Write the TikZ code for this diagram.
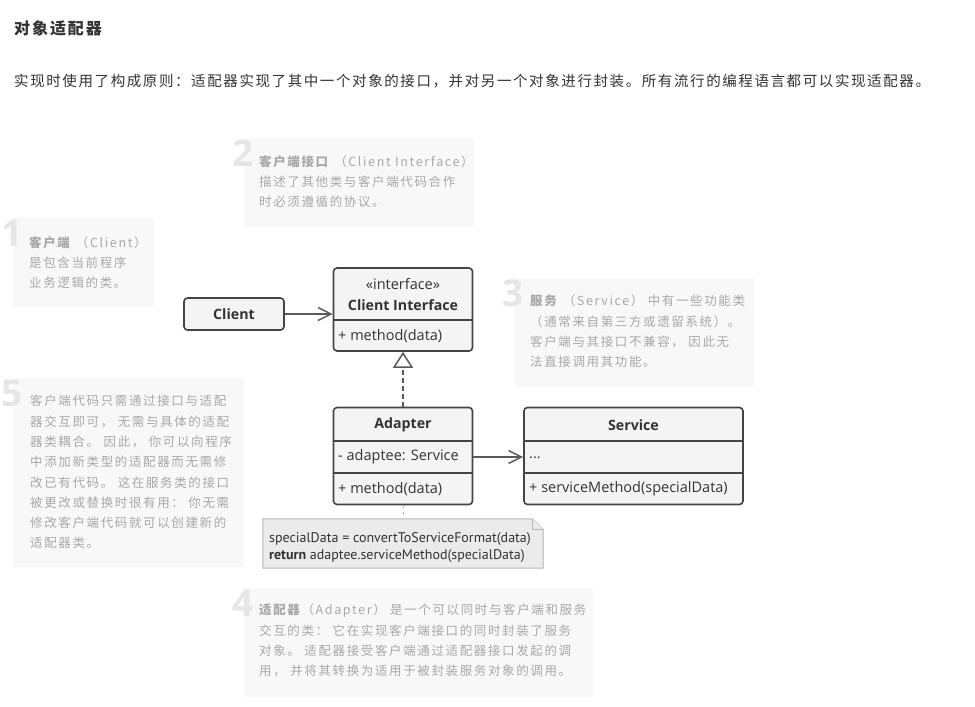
\documentclass[tikz,border=0pt]{standalone}
\usepackage{fontspec}
\setmainfont{Noto Sans CJK SC}
\newfontfamily\umlfont{Open Sans}
\newfontfamily\codefont{PT Sans}
\newfontfamily\digitfont{Open Sans}
\usetikzlibrary{arrows.meta}

\definecolor{inkdark}{HTML}{333333}
\definecolor{umlline}{HTML}{444444}
\definecolor{umlfill}{HTML}{F4F4F4}
\definecolor{arrowgray}{HTML}{5A5A5A}
\definecolor{notefill}{HTML}{F8F8F8}
\definecolor{notegray}{HTML}{A8A8A8}
\definecolor{digitgray}{HTML}{E6E6E6}
\definecolor{codefill}{HTML}{EBEBEB}
\definecolor{codeline}{HTML}{B5B5B5}

\tikzset{
  umlbox/.style={draw=umlline, line width=1.6pt, fill=umlfill, rounded corners=3.5pt, inner sep=0pt},
  umltext/.style={inner sep=0pt, text=inkdark, font=\umlfont\fontsize{14.5}{16}\selectfont},
  umlname/.style={inner sep=0pt, text=inkdark, font=\umlfont\bfseries\fontsize{14.2}{16}\selectfont},
  divider/.style={draw=umlline, line width=1.6pt},
  assoc/.style={draw=arrowgray, line width=1.5pt, -{Straight Barb[length=13pt,width=13pt,line width=1.5pt]}},
  realize/.style={draw=arrowgray, line width=1.5pt, dash pattern=on 5pt off 3pt, -{Triangle[open,length=16pt,width=20pt,line width=1.5pt]}},
  notelink/.style={draw=codeline, line width=1pt, dash pattern=on 3pt off 4pt},
  notebox/.style={fill=notefill, inner sep=0pt, anchor=north west},
  notetext/.style={inner sep=0pt, anchor=north west, align=left, text=notegray,
    font=\fontsize{12.5}{20.3}\selectfont\addfontfeatures{LetterSpace=13}},
  numtag/.style={inner sep=0pt, anchor=base east, text=digitgray, font=\digitfont\bfseries\fontsize{37}{37}\selectfont},
  codebox/.style={draw=codeline, line width=1pt, fill=codefill},
  codetext/.style={inner sep=0pt, anchor=north west, align=left, text=inkdark, font=\codefont\fontsize{14}{17}\selectfont},
}

\begin{document}
\begin{tikzpicture}[x=1pt,y=-1pt]
  \useasboundingbox[fill=white] (0,0) rectangle (975,707);

  % heading
  \node[inner sep=0pt, anchor=west, text=inkdark, font=\bfseries\fontsize{16}{18}\selectfont\addfontfeatures{LetterSpace=12}] (title) at (14,28) {对象适配器};
  \node[inner sep=0pt, anchor=west, text=inkdark, font=\fontsize{14.5}{17}\selectfont\addfontfeatures{LetterSpace=11}] (intro) at (14,81)
    {实现时使用了构成原则：适配器实现了其中一个对象的接口，并对另一个对象进行封装。所有流行的编程语言都可以实现适配器。};

  % notes
  \node[notebox, minimum width=141, minimum height=89] (note1) at (13,218) {};
  \node[notebox, minimum width=230, minimum height=89] (note2) at (244,138) {};
  \node[notebox, minimum width=240, minimum height=109] (note3) at (514,278) {};
  \node[notebox, minimum width=231, minimum height=189] (note5) at (13,378) {};
  \node[notebox, minimum width=349, minimum height=109] (note4) at (244,588) {};

  \node[numtag] (num1) at (23,246) {1};
  \node[numtag] (num2) at (254,166) {2};
  \node[numtag] (num3) at (524,306) {3};
  \node[numtag] (num5) at (23,406) {5};
  \node[numtag] (num4) at (254,616) {4};

  \node[notetext] (text1) at (29,236) {\textbf{客户端}\ （Client）\\是包含当前程序\\业务逻辑的类。};
  \node[notetext] (text2) at (259,155) {\textbf{客户端接口}\ （Client Interface）\\描述了其他类与客户端代码合作\\时必须遵循的协议。};
  \node[notetext] (text3) at (530,295) {\textbf{服务}\ （Service） 中有一些功能类\\（通常来自第三方或遗留系统）。\\客户端与其接口不兼容， 因此无\\法直接调用其功能。};
  \node[notetext] (text5) at (30,395) {客户端代码只需通过接口与适配\\器交互即可， 无需与具体的适配\\器类耦合。 因此， 你可以向程序\\中添加新类型的适配器而无需修\\改已有代码。 这在服务类的接口\\被更改或替换时很有用： 你无需\\修改客户端代码就可以创建新的\\适配器类。};
  \node[notetext] (text4) at (259,604) {\textbf{适配器}（Adapter） 是一个可以同时与客户端和服务\\交互的类： 它在实现客户端接口的同时封装了服务\\对象。 适配器接受客户端通过适配器接口发起的调\\用， 并将其转换为适用于被封装服务对象的调用。};

  % classes
  \node[umlbox, minimum width=100, minimum height=32] (client) at (234,314) {};
  \node[umlname] (clientname) at (client) {Client};

  \node[umlbox, minimum width=139, minimum height=83] (iface) at (403,309.5) {};
  \draw[divider] (iface.west |- 0,320) -- (iface.east |- 0,320);
  \node[umltext] (ifacestereo) at (403,284) {«interface»};
  \node[umlname] (ifacename) at (403,305) {Client Interface};
  \node[umltext, anchor=west] (ifaceop) at (338,336) {+ method(data)};

  \node[umlbox, minimum width=139, minimum height=97] (adapter) at (403,456) {};
  \draw[divider] (adapter.west |- 0,441) -- (adapter.east |- 0,441);
  \draw[divider] (adapter.west |- 0,473) -- (adapter.east |- 0,473);
  \node[umlname] (adaptername) at (403,425) {Adapter};
  \node[umltext, anchor=west] (adapterfield) at (338,457) {- adaptee: Service};
  \node[umltext, anchor=west] (adapterop) at (338,489) {+ method(data)};

  \node[umlbox, minimum width=219, minimum height=97] (service) at (633.5,456) {};
  \draw[divider] (service.west |- 0,441) -- (service.east |- 0,441);
  \draw[divider] (service.west |- 0,473) -- (service.east |- 0,473);
  \node[umlname] (servicename) at (633.5,425) {Service};
  \node[umltext, anchor=west] (servicefield) at (529,458) {...};
  \node[umltext, anchor=west] (serviceop) at (529,489) {+ serviceMethod(specialData)};

  % code note
  \node[inner sep=0pt, minimum width=280, minimum height=49] (code) at (403,543.5) {};
  \draw[codebox] (code.north west) -- ([xshift=-11pt]code.north east) -- ([yshift=-11pt]code.north east)
    -- (code.south east) -- (code.south west) -- cycle;
  \draw[codebox] ([xshift=-11pt]code.north east) |- ([yshift=-11pt]code.north east);
  \node[codetext] (codebody) at (269,532) {specialData = convertToServiceFormat(data)\\\textbf{return} adaptee.serviceMethod(specialData)};

  % connectors
  \draw[assoc] (client.east) -- (client.east -| iface.west);
  \draw[realize] (adapter.north) -- (iface.south);
  \draw[assoc] (adapter.east |- adapterfield) -- (service.west |- adapterfield);
  \draw[notelink] (adapter.south) -- (code.north);
\end{tikzpicture}
\end{document}
